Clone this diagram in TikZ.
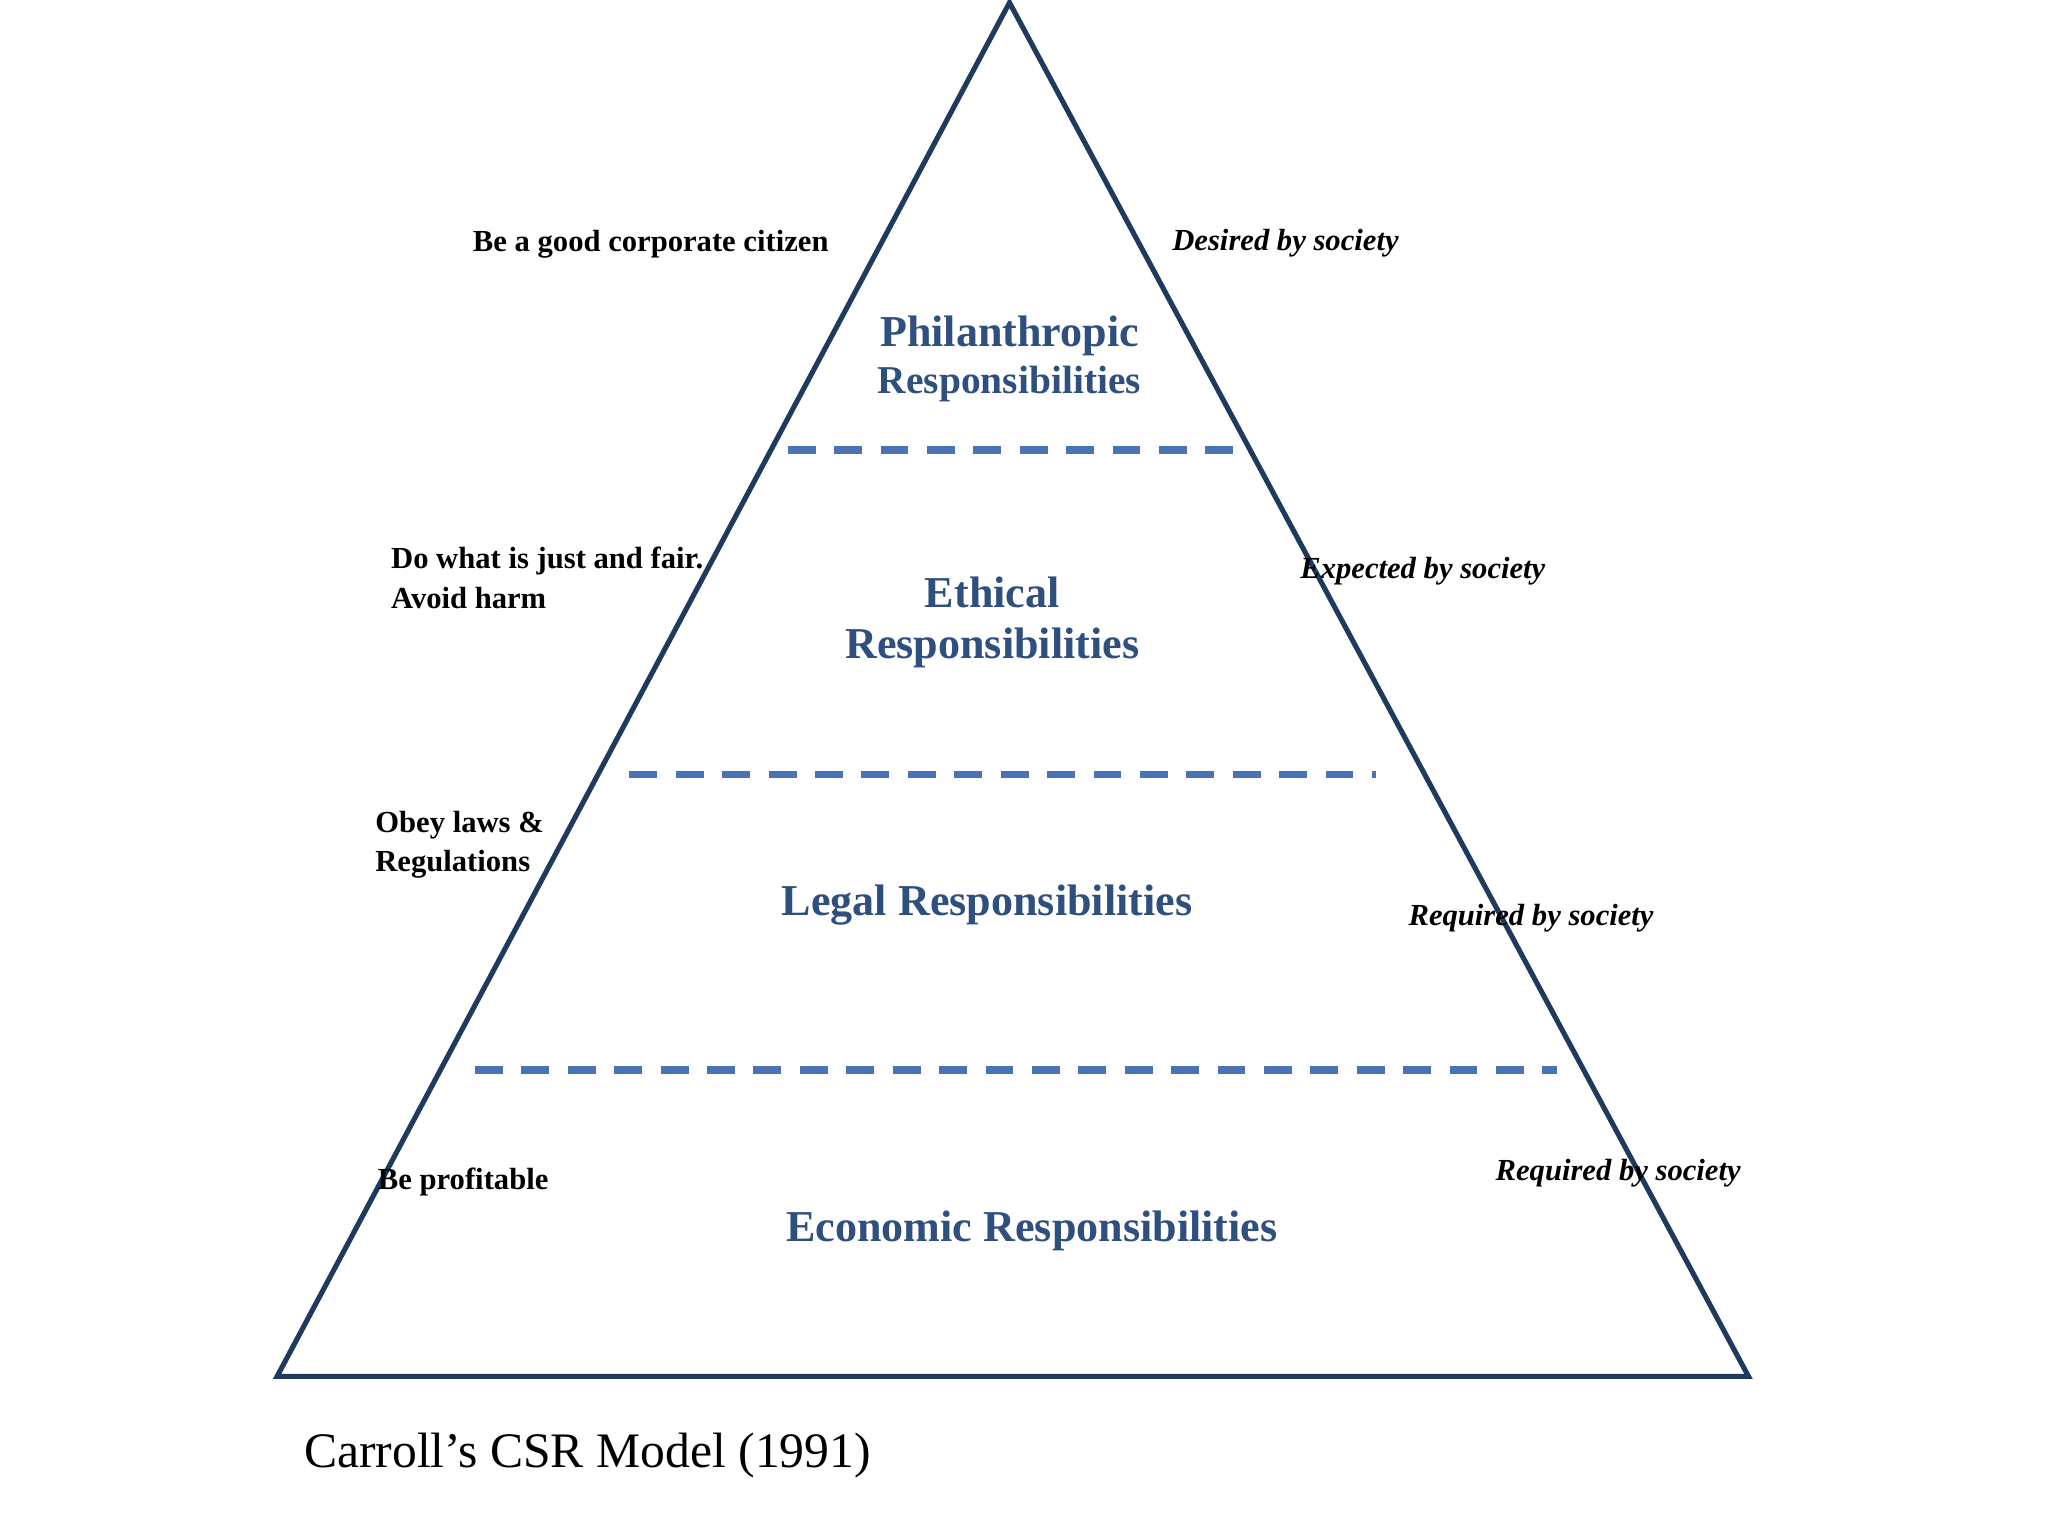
\documentclass[tikz,border=0pt]{standalone}
\usepackage{fontspec}
\setmainfont{Liberation Serif}
\definecolor{tric}{HTML}{1F3A5F}
\definecolor{dashc}{HTML}{4A72B8}
\definecolor{titc}{HTML}{2F4F7F}
\begin{document}
\begin{tikzpicture}[x=0.01cm,y=-0.01cm,
  tri/.style={draw=tric,line width=1.1pt,line join=miter},
  dashline/.style={draw=dashc,line width=1.6pt,dash pattern=on 6pt off 4pt},
  title/.style={text=titc,font=\fontsize{9.5}{11}\selectfont\bfseries,align=center},
  lab/.style={font=\fontsize{6.6}{8.5}\selectfont\bfseries,align=left},
  rlab/.style={font=\fontsize{6.6}{8.5}\selectfont\bfseries\itshape,anchor=west}]
\useasboundingbox (0,0) rectangle (1552,1164);
\coordinate (A) at (765,2);
\coordinate (B) at (210,1043);
\coordinate (C) at (1325,1043);
\draw[tri] (A) -- (B) -- (C) -- cycle;
\coordinate (d1a) at (597,341); \coordinate (d1b) at (940,341);
\coordinate (d2a) at (477,587); \coordinate (d2b) at (1043,587);
\coordinate (d3a) at (360,811); \coordinate (d3b) at (1180,811);
\draw[dashline] (d1a) -- (d1b);
\draw[dashline] (d2a) -- (d2b);
\draw[dashline] (d3a) -- (d3b);
\node[title] (t1) at (765,272) {Philanthropic\\[-1pt]{\fontsize{8.5}{10}\selectfont Responsibilities}};
\node[title] (t2) at (752,472) {Ethical\\Responsibilities};
\node[title] (t3) at (748,686) {Legal Responsibilities};
\node[title] (t4) at (782,933) {Economic Responsibilities};
\node[lab,anchor=west] (l1) at (346,185) {Be a good corporate citizen};
\node[lab,anchor=west] (l2) at (284,438) {Do what is just and fair.\\Avoid harm};
\node[lab,anchor=west] (l3) at (272,640) {Obey laws \&\\Regulations};
\node[lab,anchor=west] (l4) at (274,896) {Be profitable};
\node[rlab] (r1) at (876,184) {Desired by society};
\node[rlab] (r2) at (973,433) {Expected by society};
\node[rlab] (r3) at (1055,696) {Required by society};
\node[rlab] (r4) at (1121,889) {Required by society};
\node[anchor=west,font=\fontsize{10.7}{12}\selectfont] (cap) at (218,1103) {Carroll’s CSR Model (1991)};
\end{tikzpicture}
\end{document}
